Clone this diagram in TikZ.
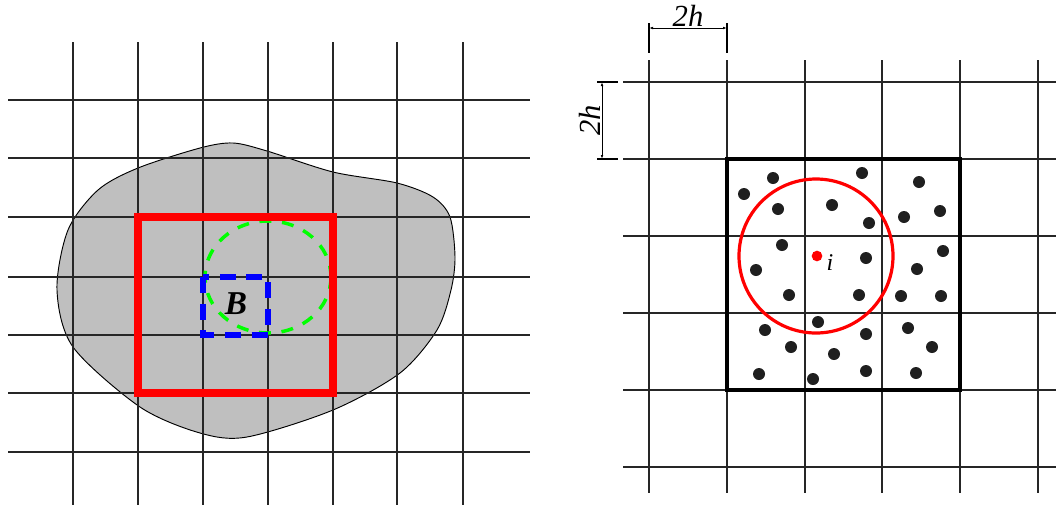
\documentclass[tikz,border=0pt]{standalone}
\usepackage{fontspec}
\setmainfont{Liberation Serif}
\usetikzlibrary{arrows.meta}

\begin{document}
\begin{tikzpicture}[x=0.75pt,y=-0.75pt,
 gridline/.style={line width=1pt,black!85},
 blob/.style={fill=black!25,draw=black,line width=0.7pt},
 redbox/.style={draw=red,line width=5.5pt},
 bluebox/.style={draw=blue,line width=4.2pt,dash pattern=on 12pt off 8pt},
 greenring/.style={draw=green,line width=2.6pt,dash pattern=on 9pt off 8pt},
 cellbox/.style={draw=black,line width=3.4pt},
 ring/.style={draw=red,line width=2.4pt},
 particle/.style={circle,fill=black!88,inner sep=0pt,minimum size=9pt},
 ext/.style={line width=0.8pt},
 dim/.style={line width=0.6pt,{Latex[length=3pt,width=2pt]}-{Latex[length=3pt,width=2pt]}},
 lbl/.style={font=\fontsize{23}{23}\selectfont\itshape,inner sep=1pt}]
\useasboundingbox (0,0) rectangle (1056,508);

% left panel: body, grid, support boxes
\draw[blob] plot[smooth cycle] coordinates {(233,143) (267,151) (333,172) (397,183) (433,197)
 (450,217) (455,257) (451,290) (437,330) (400,373) (333,410) (247,437) (200,433) (140,407)
 (73,347) (57,290) (68,230) (98,190) (138,168) (200,148)};
\foreach \x in {73,138,203,268,333,397,463} \draw[gridline] (\x,42)--(\x,505);
\foreach \y in {100,158,217,277,335,393,452} \draw[gridline] (8,\y)--(530,\y);
\draw[greenring] (268,277) ellipse [x radius=63,y radius=56];
\draw[redbox] (138,217) rectangle (333,393);
\draw[bluebox] (203,277) rectangle (268,335);
\node[lbl,font=\fontsize{25}{25}\selectfont\bfseries\itshape] (B) at (236,304) {B};

% right panel: cells and particles
\foreach \x in {649,727,805,882,960,1038} \draw[gridline] (\x,60)--(\x,493);
\foreach \y in {82,159,236,313,390,467} \draw[gridline] (623,\y)--(1056,\y);
\draw[cellbox] (727,159) rectangle (960,390);
\draw[ring] (816,256) circle (77);
\foreach \p [count=\k] in {(773,178),(744,194),(862,173),(919,182),(778,209),(832,205),
 (869,223),(904,217),(940,211),(782,245),(756,270),(866,258),(917,269),(943,251),
 (789,295),(859,295),(901,296),(941,296),(818,322),(765,330),(866,334),(908,328),
 (791,347),(834,354),(932,347),(759,374),(813,379),(866,371),(916,373)}
 \node[particle] (p\k) at \p {};
\node[particle,fill=red,minimum size=8pt] (pi) at (817,256) {};
\node[lbl,font=\fontsize{18}{18}\selectfont\itshape] (i) at (830,263) {i};

% cell size marks
\draw[ext] (649,23)--(649,53) (727,23)--(727,53);
\draw[ext] (597,82)--(618,82) (597,159)--(618,159);
\coordinate (hl) at (649,28);
\coordinate (hr) at (727,28);
\coordinate (vt) at (602,82);
\coordinate (vb) at (602,159);
\draw[dim] (hl)--(hr) node[lbl,midway,above] (hx) {2h};
\draw[dim] (vt)--(vb) node[lbl,midway,left,rotate=90,anchor=south] (hy) {2h};
\end{tikzpicture}
\end{document}
